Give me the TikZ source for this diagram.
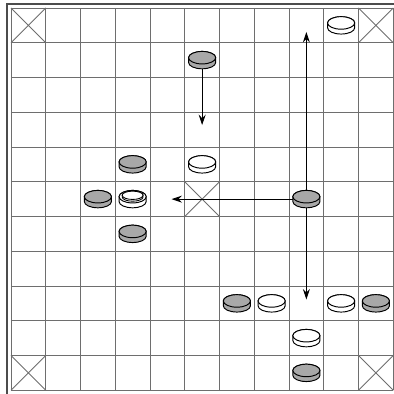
\documentclass[tikz,border=0pt]{standalone}
\usepackage{tikz}
\usetikzlibrary{arrows.meta}
\definecolor{lineGray}{HTML}{6E6E6E}
\definecolor{stoneDark}{HTML}{A8A8A8}
\tikzset{
  gridline/.style={lineGray, line width=0.5pt},
  frameline/.style={black!70, line width=0.6pt},
  move/.style={-{Stealth[length=2.1mm, width=1.4mm, inset=0.7mm]}, line width=0.55pt},
  pics/stone/.style={code={
    \draw[line width=0.55pt, fill=#1]
      (-0.39,0.07) -- (-0.39,-0.07)
      arc[start angle=180, end angle=360, x radius=0.39, y radius=0.18]
      -- (0.39,0.07)
      arc[start angle=0, end angle=180, x radius=0.39, y radius=0.18] -- cycle;
    \draw[line width=0.55pt, fill=#1] (0,0.07) ellipse[x radius=0.39, y radius=0.18];
  }},
  pics/king/.style={code={
    \pic {stone=white};
    \draw[line width=0.5pt, fill=white]
      (-0.3,0.11) -- (-0.3,0.06)
      arc[start angle=180, end angle=360, x radius=0.3, y radius=0.12]
      -- (0.3,0.11)
      arc[start angle=0, end angle=180, x radius=0.3, y radius=0.12] -- cycle;
    \draw[line width=0.5pt, fill=white] (0,0.11) ellipse[x radius=0.3, y radius=0.12];
  }}
}

\begin{document}
\begin{tikzpicture}[x=0.7cm, y=0.7cm]
\useasboundingbox (-0.3165,-0.108) rectangle (10.993,11.230);

% Board frame and grid
\draw[frameline] (-0.115,-0.115) rectangle (11.115,11.115);
\foreach \i in {0,...,11} {
  \draw[gridline] (\i,0) -- (\i,11);
  \draw[gridline] (0,\i) -- (11,\i);
}

% Corner and throne squares
\foreach \c/\r in {0/0, 10/0, 0/10, 10/10, 5/5}
  \draw[gridline] (\c,10-\r) -- ++(1,1) (\c+1,10-\r) -- ++(-1,1);

% Cell centres
\foreach \c in {0,...,10}
  \foreach \r in {0,...,10}
    \coordinate (c\c-\r) at (\c+0.5,10.5-\r);

% Move targets
\coordinate (dropto) at (5.5,7.63);
\coordinate (upto) at (8.5,10.31);
\coordinate (downto) at (8.5,2.61);
\coordinate (leftto) at (4.62,5.5);

% Moves
\draw[move] (c5-1) -- (dropto);
\draw[move] (c8-5) -- (upto);
\draw[move] (c8-5) -- (downto);
\draw[move] (c8-5) -- (leftto);

% Attackers
\foreach \c/\r in {5/1, 3/4, 2/5, 3/6, 8/5, 6/8, 10/8, 8/10}
  \pic at (c\c-\r) {stone=stoneDark};

% Defenders
\foreach \c/\r in {9/0, 5/4, 7/8, 9/8, 8/9}
  \pic at (c\c-\r) {stone=white};

% King
\pic at (c3-5) {king};

\end{tikzpicture}
\end{document}
